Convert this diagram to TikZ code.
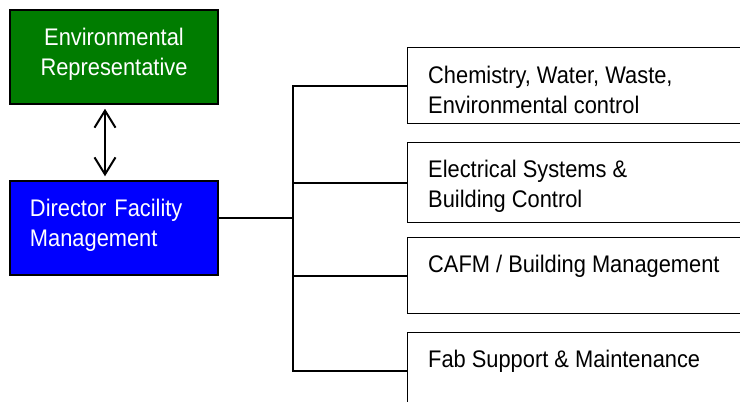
\documentclass[tikz,border=0pt]{standalone}
\usepackage{fontspec}
\setmainfont{Liberation Sans}[FakeStretch=0.91]
\usetikzlibrary{arrows.meta, positioning}
\definecolor{envGreen}{HTML}{007C00}
\definecolor{dirBlue}{HTML}{0000FF}

\begin{document}
\begin{tikzpicture}[x=1pt, y=-1pt,
    head/.style={rectangle, draw=black, line width=1.5pt, minimum width=208pt,
                 minimum height=94pt, text width=168pt, inner xsep=20pt,
                 text depth=41pt, font=\fontsize{24}{30}\selectfont\color{white}},
    unit/.style={rectangle, draw=black, line width=1.2pt, minimum width=345pt,
                 anchor=north west, inner sep=0pt},
    unittext/.style={anchor=north west, inner sep=0pt, align=left,
                 font=\fontsize{24}{30}\selectfont},
    link/.style={draw=black, line width=2pt},
    twoway/.style={link, {Straight Barb[length=17pt,width=21pt]}-{Straight Barb[length=17pt,width=21pt]},
                 shorten <=4pt, shorten >=4pt},
  ]
  \useasboundingbox (0,0) rectangle (740,402);
  \clip (0,0) rectangle (740,402);
  % left column
  \node[head, fill=envGreen, align=center] (env) at (114,57) {Environmental\\Representative};
  \node[head, fill=dirBlue, align=left] (dir) at (114,228) {Director Facility\\Management};
  \draw[twoway] ([xshift=-9pt]env.south) -- ([xshift=-9pt]dir.north);

  % units
  \node[unit, minimum height=76pt] (chem) at (407,47) {};
  \node[unit, minimum height=80pt] (elec) at (407,142) {};
  \node[unit, minimum height=76pt] (cafm) at (407,237) {};
  \node[unit, minimum height=76pt] (fab) at (407,332) {};
  \node[unittext] (chemtxt) at ([xshift=21pt,yshift=-19pt]chem.north west)
    {Chemistry, Water, Waste,\\Environmental control};
  \node[unittext] (electxt) at ([xshift=21pt,yshift=-18pt]elec.north west)
    {Electrical Systems \&\\Building Control};
  \node[unittext] (cafmtxt) at ([xshift=21pt,yshift=-18pt]cafm.north west)
    {CAFM / Building Management};
  \node[unittext] (fabtxt) at ([xshift=21pt,yshift=-18pt]fab.north west)
    {Fab Support \& Maintenance};

  % tree
  \coordinate (fork) at (293,218);
  \draw[link] ([yshift=10pt]dir.east) -- (fork);
  \draw[link] (chem.west) -| (fork) |- (fab.west);
  \draw[link] (elec.west) -- (elec.west -| fork);
  \draw[link] (cafm.west) -- (cafm.west -| fork);
\end{tikzpicture}
\end{document}
